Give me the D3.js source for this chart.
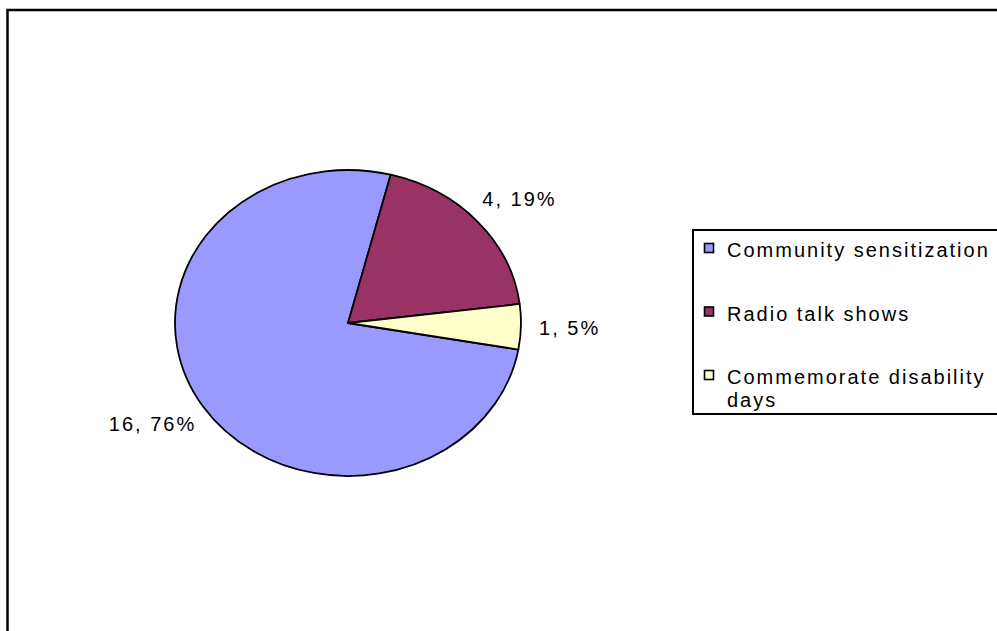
<!DOCTYPE html>
<html>
<head>
<meta charset="utf-8">
<script src="https://cdn.jsdelivr.net/npm/d3@7"></script>
<style>
  body { margin: 0; background: #fff; }
  text { font-family: "Liberation Sans", Arial, sans-serif; font-size: 20px; letter-spacing: 2px; fill: #000; }
</style>
</head>
<body>
<svg id="chart" width="997" height="631"></svg>
<script>
// Chart data
const categories = ["Community sensitization", "Radio talk shows", "Commemorate disability days"];
const counts = [16, 4, 1];
const percents = ["76%", "19%", "5%"];
const colors = ["#9999FF", "#993366", "#FFFFCC"];
// legend labels split the way the original wraps them
const legendLines = [["Community sensitization"], ["Radio talk shows"], ["Commemorate disability", "days"]];

const cx = 348, cy = 323;   // pie centre
const rx = 173, ry = 153;   // pie is drawn squashed into an ellipse

const svg = d3.select("#chart");

// outer chart border (runs off the right and bottom edges)
svg.append("rect")
    .attr("x", 7.5).attr("y", 10)
    .attr("width", 1200).attr("height", 800)
    .attr("fill", "#fff")
    .attr("stroke", "#000")
    .attr("stroke-width", 2.5);

const start = 100 * Math.PI / 180;
const pie = d3.pie().sort(null).value(d => d)
    .startAngle(start).endAngle(start + 2 * Math.PI);
const arcs = pie(counts);

const arc = d3.arc().innerRadius(0).outerRadius(rx);

const g = svg.append("g")
    .attr("transform", `translate(${cx},${cy}) scale(1,${ry / rx})`);

g.selectAll("path")
    .data(arcs)
    .enter().append("path")
    .attr("d", arc)
    .attr("fill", (d, i) => colors[i])
    .attr("stroke", "#000")
    .attr("stroke-width", 1.8)
    .attr("vector-effect", "non-scaling-stroke")
    .attr("stroke-linejoin", "round");

// data labels outside the slices, box pushed out along the mid angle
const labelGap = 1.105;
const labels = svg.selectAll(".slice-label")
    .data(arcs)
    .enter().append("text")
    .attr("class", "slice-label")
    .attr("text-anchor", "middle")
    .text((d, i) => `${counts[i]}, ${percents[i]}`);

labels.each(function(d) {
    const a = (d.startAngle + d.endAngle) / 2;
    const w = this.getComputedTextLength() - 2;
    const x = cx + Math.sin(a) * (rx * labelGap + w / 2);
    const y = cy - Math.cos(a) * (ry * labelGap + 18);
    d3.select(this).attr("x", x + 1).attr("y", y + 7);
});

// legend
const legend = svg.append("g").attr("transform", "translate(693,230)");
legend.append("rect")
    .attr("x", 0).attr("y", 0)
    .attr("width", 400).attr("height", 184)
    .attr("fill", "#fff")
    .attr("stroke", "#000")
    .attr("stroke-width", 2);

const rowY = d3.scalePoint().domain(d3.range(categories.length)).range([27, 154]);

const item = legend.selectAll(".item")
    .data(categories)
    .enter().append("g")
    .attr("class", "item")
    .attr("transform", (d, i) => `translate(0,${rowY(i)})`);

item.append("rect")
    .attr("x", 11.5).attr("y", -13.5)
    .attr("width", 9).attr("height", 9)
    .attr("fill", (d, i) => colors[i])
    .attr("stroke", "#000")
    .attr("stroke-width", 1.6);

item.append("text")
    .attr("x", 34)
    .selectAll("tspan")
    .data((d, i) => legendLines[i])
    .enter().append("tspan")
    .attr("x", 34)
    .attr("y", (d, j) => j * 23)
    .text(d => d);
</script>
</body>
</html>
